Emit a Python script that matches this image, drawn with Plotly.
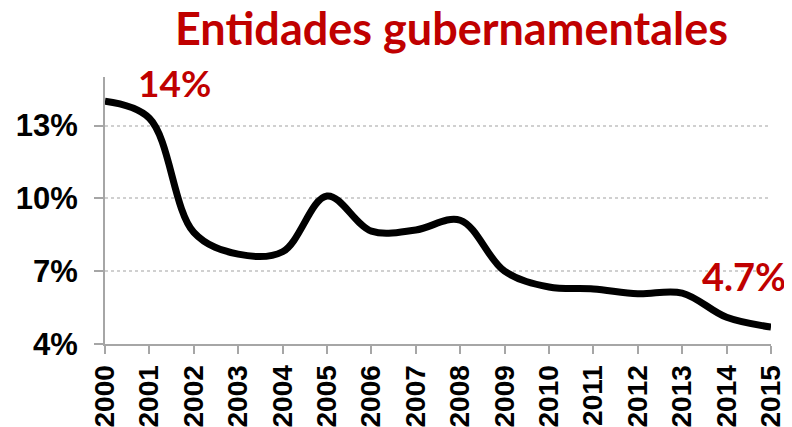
import plotly.graph_objects as go

years = list(range(2000, 2016))
values = [14.0, 13.3, 8.6, 7.7, 7.8, 10.1, 8.65, 8.7, 9.1, 7.0, 6.35, 6.27, 6.07, 6.1, 5.1, 4.7]
ytick_vals = [4, 7, 10, 13]
ytick_text = ["4%", "7%", "10%", "13%"]
title_text = "Entidades gubernamentales"
first_label = "14%"
last_label = "4.7%"

red = "#C00000"
W, H = 784, 419
L, R, T, B = 97, 21, 69, 83
PW, PH = W - L - R, H - T - B

fig = go.Figure()
fig.add_trace(go.Scatter(
    x=years, y=values, mode="lines",
    line=dict(color="black", width=7, shape="spline", smoothing=1.0),
    hoverinfo="skip", cliponaxis=False,
))

def px_x(px):
    return (px - L) / PW

def px_y(py_from_top):
    return (H - py_from_top - B) / PH

fig.add_annotation(x=px_x(128), y=px_y(74), text="<b>" + first_label + "</b>", showarrow=False,
                   xref="x domain", yref="y domain", xanchor="left", yanchor="middle",
                   font=dict(family="Lato", size=37, color=red))
fig.add_annotation(x=px_x(780), y=px_y(268), text="<b>" + last_label + "</b>", showarrow=False,
                   xref="x domain", yref="y domain", xanchor="right", yanchor="middle",
                   font=dict(family="Lato", size=38, color=red))

fig.update_layout(
    width=W, height=H,
    margin=dict(l=L, r=R, t=T, b=B, autoexpand=False),
    paper_bgcolor="white", plot_bgcolor="white",
    showlegend=False,
    title=dict(text="<b>" + title_text + "</b>", x=443.5 / W, xanchor="center", y=1 - 21 / H, yanchor="middle",
               font=dict(family="Lato", size=45, color=red)),
    xaxis=dict(
        range=[2000, 2015], tickmode="array", tickvals=years,
        ticktext=[str(y) for y in years], tickangle=-90, automargin=False,
        showgrid=False, showline=True, linecolor="#A6A6A6", linewidth=2,
        ticks="outside", ticklen=8, tickcolor="#A6A6A6", tickwidth=2,
        tickfont=dict(family="Arial", size=28, color="black", weight="bold"),
        zeroline=False,
    ),
    yaxis=dict(
        range=[4, 15], tickmode="array", tickvals=ytick_vals, ticktext=ytick_text,
        automargin=False, ticklabelstandoff=10,
        showgrid=True, gridcolor="#D0D0D0", griddash="dot", gridwidth=1.5,
        showline=True, linecolor="#A6A6A6", linewidth=2,
        ticks="outside", ticklen=9, tickcolor="#A6A6A6", tickwidth=2,
        tickfont=dict(family="Arial", size=31, color="black", weight="bold"),
        zeroline=False,
    ),
)

fig.write_html("out.html")
